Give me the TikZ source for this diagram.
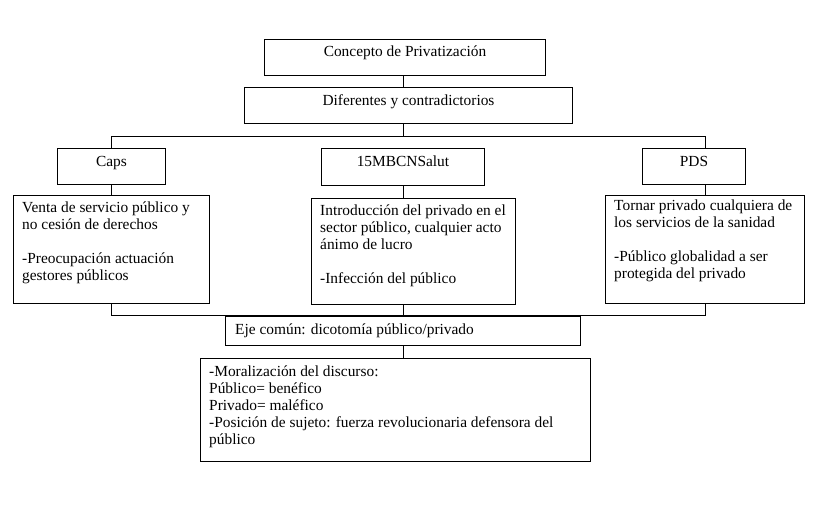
\documentclass[tikz,border=0pt]{standalone}
\usepackage{fontspec}
\setmainfont{Liberation Serif}
\usetikzlibrary{positioning}
\begin{document}
\begin{tikzpicture}[x=1pt,y=-1pt,
  frame/.style={draw,line width=1pt,inner sep=0pt,anchor=north west},
  txt/.style={inner sep=0pt,align=left,font=\fontsize{15.4}{17}\selectfont,execute at begin node=\strut},
  ctxt/.style={txt,align=center}]
  \useasboundingbox (0,0) rectangle (819,523);
  % frames
  \node[frame,minimum width=281pt,minimum height=36pt] (concepto) at (264,39) {};
  \node[frame,minimum width=328pt,minimum height=36pt] (difer) at (244,87) {};
  \node[frame,minimum width=108pt,minimum height=36pt] (caps) at (57,148) {};
  \node[frame,minimum width=163pt,minimum height=37pt] (salut) at (321,148) {};
  \node[frame,minimum width=103pt,minimum height=36pt] (pds) at (642,148) {};
  \node[frame,minimum width=196pt,minimum height=108pt] (capsT) at (13,195) {};
  \node[frame,minimum width=204pt,minimum height=106pt] (salutT) at (311,198) {};
  \node[frame,minimum width=199pt,minimum height=108pt] (pdsT) at (605,195) {};
  \node[frame,minimum width=355pt,minimum height=29pt] (eje) at (225,316) {};
  \node[frame,minimum width=390pt,minimum height=103pt] (moral) at (200,358) {};
  % texts
  \node[ctxt,below=5pt of concepto.north] (conceptoL) {Concepto de Privatización};
  \node[ctxt,below=6pt of difer.north] (diferL) {Diferentes y contradictorios};
  \node[ctxt,below=6pt of caps.north] (capsL) {Caps};
  \node[ctxt,below=6pt of salut.north] (salutL) {15MBCNSalut};
  \node[ctxt,below=6pt of pds.north] (pdsL) {PDS};
  \node[txt,below right=7pt and 9pt of capsT.north west] (capsTL)
    {Venta de servicio público y\\no cesión de derechos\\[17pt]-Preocupación actuación\\gestores públicos};
  \node[txt,below right=7pt and 9pt of salutT.north west] (salutTL)
    {Introducción del privado en el\\sector público, cualquier acto\\ánimo de lucro\\[17pt]-Infección del público};
  \node[txt,below right=5pt and 9pt of pdsT.north west] (pdsTL)
    {Tornar privado cualquiera de\\los servicios de la sanidad\\[17pt]-Público globalidad a ser\\protegida del privado};
  \node[txt,below right=6pt and 10pt of eje.north west] (ejeL) {Eje común: dicotomía público/privado};
  \node[txt,below right=8pt and 9pt of moral.north west] (moralL)
    {-Moralización del discurso:\\Público= benéfico\\Privado= maléfico\\-Posición de sujeto: fuerza revolucionaria defensora del\\público};
  % connectors
  \coordinate (barT) at (403,136);
  \coordinate (barB) at (403,315);
  \draw[line width=1pt] (concepto.south -| barT) -- (difer.north -| barT);
  \draw[line width=1pt] (difer.south -| barT) -- (barT);
  \draw[line width=1pt] (caps.north) -- (caps.north |- barT) -- (barT -| pdsT.north) -- (pds.north -| pdsT.north);
  \draw[line width=1pt] (caps.south) -- (capsT.north -| caps.south);
  \draw[line width=1pt] (salut.south -| barT) -- (salutT.north -| barT);
  \draw[line width=1pt] (pds.south -| pdsT.north) -- (pdsT.north);
  \draw[line width=1pt] (capsT.south) -- (capsT.south |- barB) -- (barB -| pdsT.south) -- (pdsT.south);
  \draw[line width=1pt] (salutT.south -| barB) -- (barB);
  \draw[line width=1pt] (eje.south -| barB) -- (moral.north -| barB);
\end{tikzpicture}
\end{document}
